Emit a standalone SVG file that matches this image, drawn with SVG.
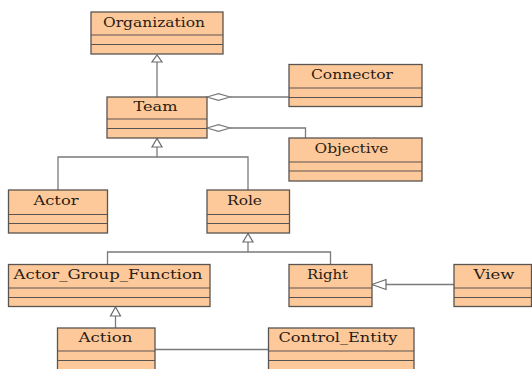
<svg xmlns="http://www.w3.org/2000/svg" width="532" height="369" viewBox="0 0 532 369">
<style>
.box{fill:#fdc99a;stroke:#5a5450;stroke-width:1.3}
.div{stroke:#5a5450;stroke-width:1.1}
.lbl{font-family:"DejaVu Serif","Liberation Serif",serif;font-size:13px;fill:#2a1c14}
.ln{fill:none;stroke:#7a7a7a;stroke-width:1.3}
.tri{fill:#ffffff;stroke:#6a6a6a;stroke-width:1.2}
.dia{fill:#ffffff;stroke:#7a7a7a;stroke-width:1.2}
</style>
<rect width="532" height="369" fill="#ffffff"/>
<g id="connectors">
<line class="ln" x1="157" y1="62" x2="157" y2="97"/>
<polygon class="tri" points="157,55 152,62 162,62"/>
<polyline class="ln" points="157,147 157,157"/>
<polyline class="ln" points="58,190 58,157 248,157 248,190"/>
<polygon class="tri" points="157,138.5 152,147 162,147"/>
<line class="ln" x1="230" y1="97" x2="289" y2="97"/>
<polygon class="dia" points="207,97 218.5,93.6 230,97 218.5,100.4"/>
<polyline class="ln" points="230,128 305.5,128 305.5,138"/>
<polygon class="dia" points="207,128 218.5,124.6 230,128 218.5,131.4"/>
<line class="ln" x1="248" y1="242" x2="248" y2="252"/>
<polyline class="ln" points="107.5,264.5 107.5,252 330.5,252 330.5,264.5"/>
<polygon class="tri" points="248,233.5 243,242 253,242"/>
<line class="ln" x1="115.5" y1="316" x2="115.5" y2="328"/>
<polygon class="tri" points="115.5,307 110.5,316 120.5,316"/>
<line class="ln" x1="386" y1="284.5" x2="454" y2="284.5"/>
<polygon class="tri" points="372,284.5 386,279.5 386,289.5"/>
<line class="ln" x1="155" y1="349.5" x2="268.5" y2="349.5"/>
</g>
<g id="Organization">
<rect class="box" x="91" y="12" width="132" height="42"/>
<line class="div" x1="91" y1="35" x2="223" y2="35"/>
<line class="div" x1="91" y1="44.5" x2="223" y2="44.5"/>
<text class="lbl" x="103" y="26.5" textLength="102" lengthAdjust="spacingAndGlyphs">Organization</text>
</g>
<g id="Team">
<rect class="box" x="107" y="97" width="100" height="41"/>
<line class="div" x1="107" y1="119" x2="207" y2="119"/>
<line class="div" x1="107" y1="128.5" x2="207" y2="128.5"/>
<text class="lbl" x="133.5" y="111" textLength="44" lengthAdjust="spacingAndGlyphs">Team</text>
</g>
<g id="Connector">
<rect class="box" x="289" y="64.5" width="133" height="42"/>
<line class="div" x1="289" y1="88" x2="422" y2="88"/>
<line class="div" x1="289" y1="97.5" x2="422" y2="97.5"/>
<text class="lbl" x="311" y="79" textLength="82" lengthAdjust="spacingAndGlyphs">Connector</text>
</g>
<g id="Objective">
<rect class="box" x="289" y="138" width="133" height="43"/>
<line class="div" x1="289" y1="162" x2="422" y2="162"/>
<line class="div" x1="289" y1="171" x2="422" y2="171"/>
<text class="lbl" x="314.5" y="153" textLength="74" lengthAdjust="spacingAndGlyphs">Objective</text>
</g>
<g id="Actor">
<rect class="box" x="8.5" y="190" width="99" height="43"/>
<line class="div" x1="8.5" y1="214.5" x2="107.5" y2="214.5"/>
<line class="div" x1="8.5" y1="223.5" x2="107.5" y2="223.5"/>
<text class="lbl" x="33.5" y="204.5" textLength="45" lengthAdjust="spacingAndGlyphs">Actor</text>
</g>
<g id="Role">
<rect class="box" x="207" y="190" width="82.5" height="43"/>
<line class="div" x1="207" y1="214.5" x2="289.5" y2="214.5"/>
<line class="div" x1="207" y1="223.5" x2="289.5" y2="223.5"/>
<text class="lbl" x="227" y="204.5" textLength="35" lengthAdjust="spacingAndGlyphs">Role</text>
</g>
<g id="Actor_Group_Function">
<rect class="box" x="8.5" y="264.5" width="201.5" height="42"/>
<line class="div" x1="8.5" y1="288" x2="210" y2="288"/>
<line class="div" x1="8.5" y1="297.5" x2="210" y2="297.5"/>
<text class="lbl" x="13.5" y="279" textLength="189" lengthAdjust="spacingAndGlyphs">Actor_Group_Function</text>
</g>
<g id="Right">
<rect class="box" x="289" y="264.5" width="83" height="42"/>
<line class="div" x1="289" y1="288" x2="372" y2="288"/>
<line class="div" x1="289" y1="297.5" x2="372" y2="297.5"/>
<text class="lbl" x="307" y="279" textLength="41" lengthAdjust="spacingAndGlyphs">Right</text>
</g>
<g id="View">
<rect class="box" x="454" y="264.5" width="77.5" height="42"/>
<line class="div" x1="454" y1="288" x2="531.5" y2="288"/>
<line class="div" x1="454" y1="297.5" x2="531.5" y2="297.5"/>
<text class="lbl" x="473.5" y="279" textLength="41" lengthAdjust="spacingAndGlyphs">View</text>
</g>
<g id="Action">
<rect class="box" x="57.5" y="328" width="97.5" height="50"/>
<line class="div" x1="57.5" y1="351" x2="155" y2="351"/>
<line class="div" x1="57.5" y1="360.5" x2="155" y2="360.5"/>
<text class="lbl" x="78.5" y="342.3" textLength="54" lengthAdjust="spacingAndGlyphs">Action</text>
</g>
<g id="Control_Entity">
<rect class="box" x="268.5" y="328" width="145.5" height="50"/>
<line class="div" x1="268.5" y1="351" x2="414" y2="351"/>
<line class="div" x1="268.5" y1="360.5" x2="414" y2="360.5"/>
<text class="lbl" x="278.5" y="342.3" textLength="119" lengthAdjust="spacingAndGlyphs">Control_Entity</text>
</g>
</svg>
